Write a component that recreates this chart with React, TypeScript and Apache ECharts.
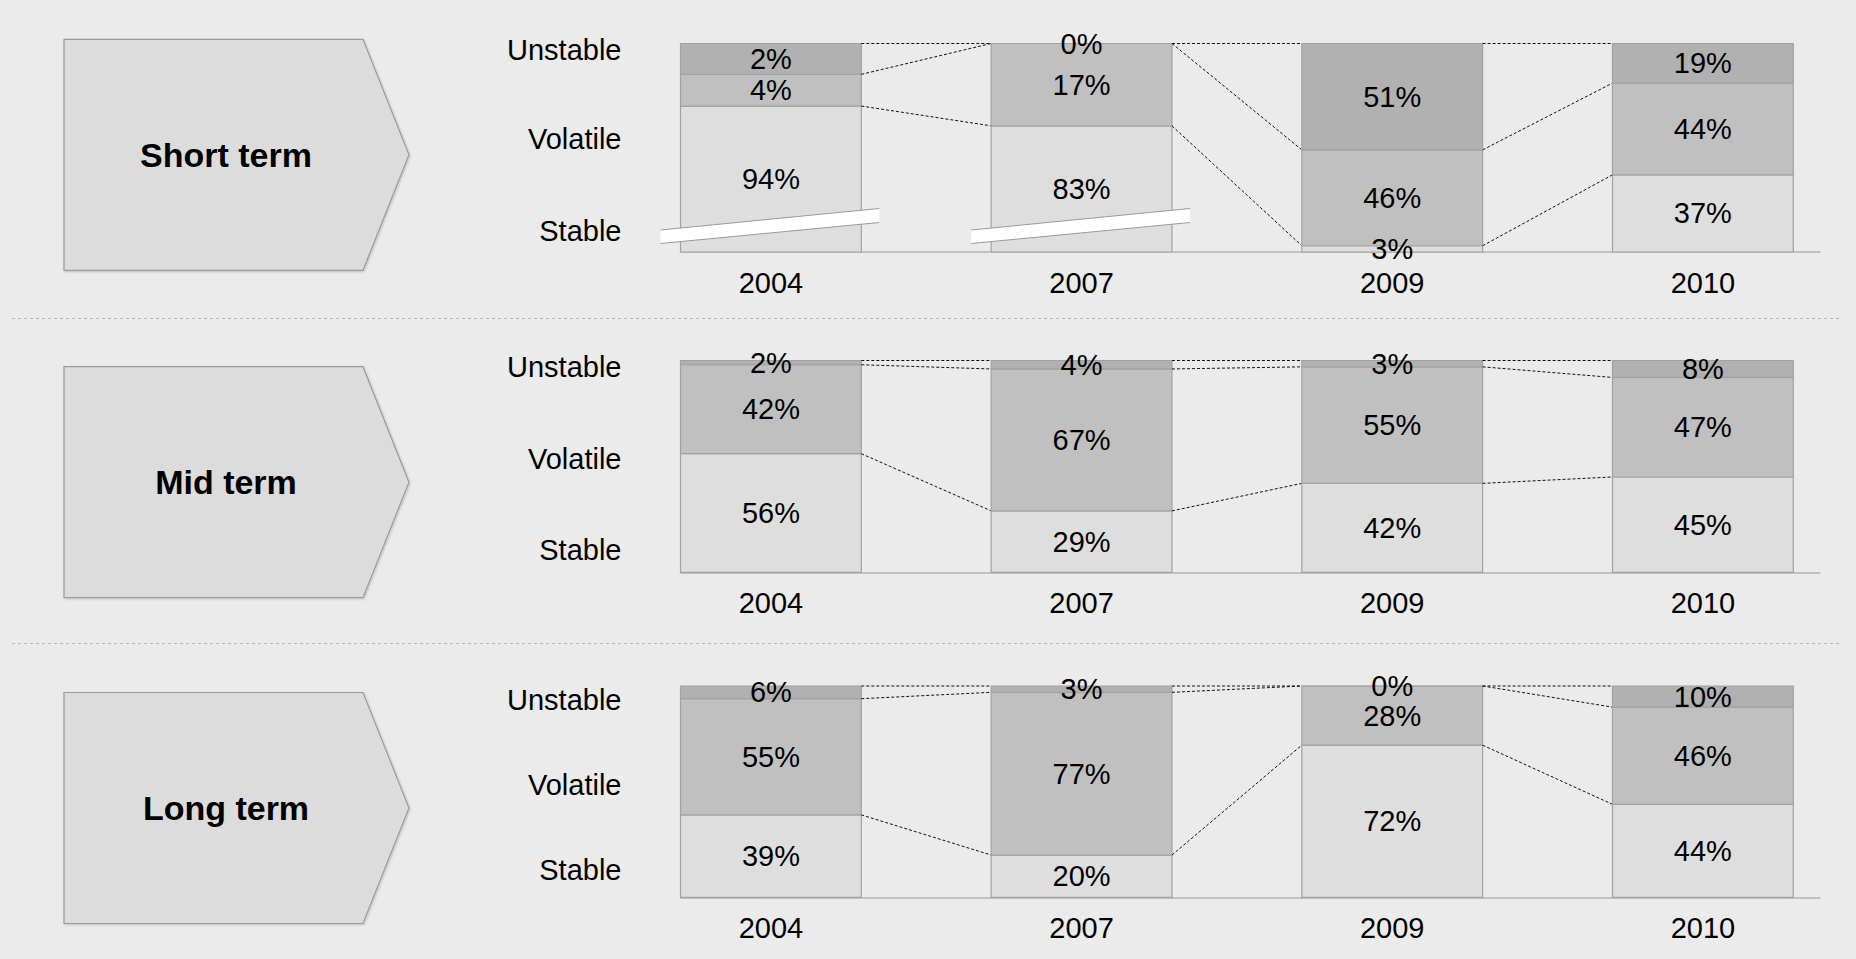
import React, { useEffect, useRef } from "react";
import * as echarts from "echarts";

// ---------- data ----------
const years = ["2004", "2007", "2009", "2010"];
const rowTitles = ["Short term", "Mid term", "Long term"];
const segmentNames = ["Stable", "Volatile", "Unstable"];

// labelled shares (%)
const shortStable = [94, 83, 3, 37];
const shortVolatile = [4, 17, 46, 44];
const shortUnstable = [2, 0, 51, 19];

const midStable = [56, 29, 42, 45];
const midVolatile = [42, 67, 55, 47];
const midUnstable = [2, 4, 3, 8];

const longStable = [39, 20, 72, 44];
const longVolatile = [55, 77, 28, 46];
const longUnstable = [6, 3, 0, 10];

// drawn heights of the short-term bars (2004 and 2007 are drawn on a broken axis)
const shortStableDrawn = [70, 60.5, 3, 37];
const shortVolatileDrawn = [15.2, 39.5, 46, 44];
const shortUnstableDrawn = [14.8, 0, 51, 19];
const shortBroken = [true, true, false, false];

// ---------- style ----------
const FONT = "'Liberation Sans', Arial, Helvetica, sans-serif";
const BG = "#ebebeb";
const COLORS = ["#dedede", "#c0c0c0", "#b1b1b1"];
const BAR_BORDER = "#a2a2a2";
const FS = 29;
const HALF = 0.291; // half bar width in x units
const X_MIN = -0.291;
const X_MAX = 3.377;
const GRID_LEFT = 680.5;
const GRID_WIDTH = 1139.5;
const gridTops = [43.5, 360.5, 686];
const gridHeights = [208.5, 211.8, 211.3];
const yLabelPos = [
  [10, 54, 97],
  [10.5, 53.6, 96.7],
  [13, 53.3, 93.4],
];
const arrowTops = [39.3, 366.7, 692.5];
const ARROW_H = 231;
const separatorYs = [318.5, 643.5];

type Row = {
  stable: number[];
  volatile: number[];
  unstable: number[];
  stableLbl: number[];
  volatileLbl: number[];
  unstableLbl: number[];
  broken: boolean[];
};

const rows: Row[] = [
  {
    stable: shortStableDrawn,
    volatile: shortVolatileDrawn,
    unstable: shortUnstableDrawn,
    stableLbl: shortStable,
    volatileLbl: shortVolatile,
    unstableLbl: shortUnstable,
    broken: shortBroken,
  },
  {
    stable: midStable,
    volatile: midVolatile,
    unstable: midUnstable,
    stableLbl: midStable,
    volatileLbl: midVolatile,
    unstableLbl: midUnstable,
    broken: [false, false, false, false],
  },
  {
    stable: longStable,
    volatile: longVolatile,
    unstable: longUnstable,
    stableLbl: longStable,
    volatileLbl: longVolatile,
    unstableLbl: longUnstable,
    broken: [false, false, false, false],
  },
];

function makeRenderItem(row: Row) {
  return (params: any, api: any) => {
    const i = api.value(0);
    const s = api.value(1);
    const v = api.value(2);
    const u = api.value(3);
    const bottoms = [0, s, s + v];
    const tops = [s, s + v, s + v + u];
    const labels = [row.stableLbl[i], row.volatileLbl[i], row.unstableLbl[i]];
    const children: any[] = [];
    const textEls: any[] = [];
    for (let k = 0; k < 3; k++) {
      const p0 = api.coord([i - HALF, tops[k]]);
      const p1 = api.coord([i + HALF, bottoms[k]]);
      children.push({
        type: "rect",
        shape: { x: p0[0], y: p0[1], width: p1[0] - p0[0], height: p1[1] - p0[1] },
        style: { fill: COLORS[k], stroke: BAR_BORDER, lineWidth: 1.2 },
      });
      textEls.push({
        type: "text",
        x: (p0[0] + p1[0]) / 2,
        y: (p0[1] + p1[1]) / 2,
        style: {
          text: labels[k] + "%",
          fill: "#000",
          fontSize: FS,
          fontFamily: FONT,
          align: "center",
          verticalAlign: "middle",
        },
      });
    }
    if (row.broken[i]) {
      const pl = api.coord([i - HALF, 0]);
      const pr = api.coord([i + HALF, 0]);
      const yb = pl[1];
      const xl = pl[0] - 20;
      const xr = pr[0] + 18;
      children.push({
        type: "polygon",
        shape: {
          points: [
            [xl, yb - 8.5],
            [xl, yb - 22],
            [xr, yb - 43.5],
            [xr, yb - 29.5],
          ],
        },
        style: { fill: "#ffffff", stroke: "none" },
      });
      children.push({
        type: "line",
        shape: { x1: xl, y1: yb - 22, x2: xr, y2: yb - 43.5 },
        style: { stroke: "#9a9a9a", lineWidth: 1 },
      });
      children.push({
        type: "line",
        shape: { x1: xl, y1: yb - 8.5, x2: xr, y2: yb - 29.5 },
        style: { stroke: "#9a9a9a", lineWidth: 1 },
      });
    }
    if (i < years.length - 1) {
      const j = i + 1;
      const cur = [s + v + u, s + v, s];
      const nxt = [
        row.stable[j] + row.volatile[j] + row.unstable[j],
        row.stable[j] + row.volatile[j],
        row.stable[j],
      ];
      for (let k = 0; k < 3; k++) {
        const a = api.coord([i + HALF, cur[k]]);
        const b = api.coord([j - HALF, nxt[k]]);
        children.push({
          type: "line",
          shape: { x1: a[0], y1: a[1], x2: b[0], y2: b[1] },
          style: { stroke: "#111", lineWidth: 1, lineDash: [3, 2] },
        });
      }
    }
    return { type: "group", children: children.concat(textEls) };
  };
}

function buildOption() {
  const grids = rows.map((_, g) => ({
    left: GRID_LEFT,
    width: GRID_WIDTH,
    top: gridTops[g],
    height: gridHeights[g],
    containLabel: false,
    outerBoundsMode: "none",
  }));
  const xAxes = rows.map((_, g) => ({
    type: "value",
    gridIndex: g,
    min: X_MIN,
    max: X_MAX,
    axisLine: { show: true, lineStyle: { color: "#b3b3b3", width: 1.5 } },
    axisTick: { show: false },
    splitLine: { show: false },
    axisLabel: {
      customValues: [0, 1, 2, 3],
      formatter: (val: number) => years[Math.round(val)],
      color: "#000",
      fontSize: FS,
      fontFamily: FONT,
      margin: 16,
    },
  }));
  const yAxes = rows.map((_, g) => ({
    type: "value",
    gridIndex: g,
    min: 0,
    max: 100,
    axisLine: { show: false },
    axisTick: { show: false },
    splitLine: { show: false },
    axisLabel: {
      customValues: yLabelPos[g],
      formatter: (val: number) => {
        let best = 0;
        let bd = Infinity;
        yLabelPos[g].forEach((p, k) => {
          const d = Math.abs(p - val);
          if (d < bd) {
            bd = d;
            best = k;
          }
        });
        return segmentNames[best];
      },
      color: "#000",
      fontSize: FS,
      fontFamily: FONT,
      margin: 59,
    },
  }));
  const series = rows.map((row, g) => ({
    type: "custom",
    name: rowTitles[g],
    xAxisIndex: g,
    yAxisIndex: g,
    clip: false,
    encode: { x: 0, y: 1 },
    data: years.map((_, i) => [i, row.stable[i], row.volatile[i], row.unstable[i]]),
    renderItem: makeRenderItem(row),
  }));

  const graphic: any[] = [];
  rowTitles.forEach((title, g) => {
    const t = arrowTops[g];
    graphic.push({
      type: "polygon",
      shape: {
        points: [
          [64, t],
          [363, t],
          [409, t + ARROW_H / 2],
          [363, t + ARROW_H],
          [64, t + ARROW_H],
        ],
      },
      style: {
        fill: "#dcdcdc",
        stroke: "#9a9a9a",
        lineWidth: 1.2,
        shadowBlur: 2,
        shadowColor: "rgba(0,0,0,0.18)",
        shadowOffsetX: 1,
        shadowOffsetY: 1,
      },
      z: 1,
    });
    graphic.push({
      type: "text",
      x: 226,
      y: t + ARROW_H / 2,
      style: {
        text: title,
        fill: "#000",
        fontSize: 34,
        fontWeight: "bold",
        fontFamily: FONT,
        align: "center",
        verticalAlign: "middle",
      },
      z: 2,
    });
  });
  separatorYs.forEach((y) => {
    graphic.push({
      type: "line",
      shape: { x1: 12, y1: y, x2: 1840, y2: y },
      style: { stroke: "#b9b9b9", lineWidth: 1, lineDash: [3, 3] },
      z: 1,
    });
  });

  return {
    animation: false,
    backgroundColor: BG,
    textStyle: { fontFamily: FONT },
    grid: grids,
    xAxis: xAxes,
    yAxis: yAxes,
    series,
    graphic,
  };
}

export default function App() {
  const ref = useRef<HTMLDivElement>(null);
  useEffect(() => {
    if (!ref.current) return;
    const chart = echarts.init(ref.current, undefined, { renderer: "svg" });
    chart.setOption(buildOption() as any);
    return () => chart.dispose();
  }, []);
  return (
    <div
      ref={ref}
      style={{ position: "absolute", left: 0, top: 0, width: 1856, height: 959 }}
    />
  );
}
